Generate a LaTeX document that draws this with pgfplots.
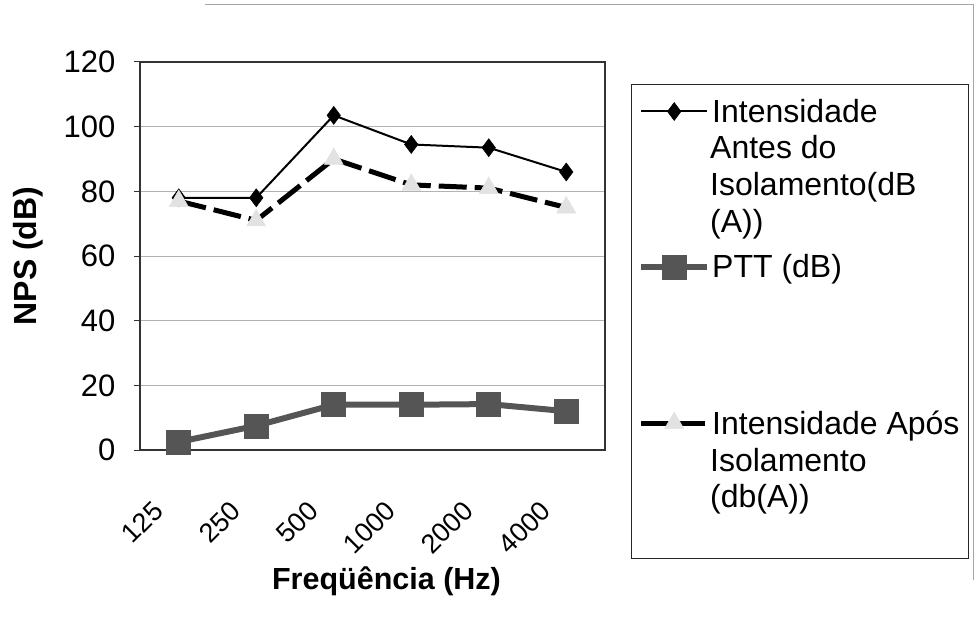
\documentclass[border=0pt]{standalone}
\usepackage{fontspec}
\setmainfont{Liberation Sans}
\usepackage{pgfplots}
\pgfplotsset{compat=1.18}
\definecolor{pttgray}{HTML}{555555}
\definecolor{trigray}{HTML}{E2E2E2}
\begin{document}
\begin{tikzpicture}
\path (0pt,0pt) rectangle (978pt,630pt);
\draw[gray!70, line width=1pt] (205pt,625pt) -- (973pt,625pt) -- (973pt,50pt);
\draw[black!85, line width=1pt] (631pt,545pt) rectangle (968pt,72pt);
\begin{axis}[
  at={(140pt,180pt)}, anchor=south west, scale only axis,
  width=465pt, height=388pt,
  xmin=-0.5, xmax=5.5, ymin=0, ymax=120,
  ytick={0,20,...,120},
  xtick={0,...,5},
  xticklabels={125,250,500,1000,2000,4000},
  minor xtick={-0.5,0.5,...,5.5},
  xtick style={draw=none},
  minor tick length=8pt,
  minor tick style={black!80, line width=1pt},
  ytick style={black!80, line width=1pt},
  major tick length=6pt,
  tick align=outside,
  xtick pos=bottom, ytick pos=left,
  ymajorgrids, grid style={gray!60, line width=1pt},
  axis line style={black!80, line width=1.2pt},
  /pgf/number format/assume math mode=true,
  yticklabel style={font=\fontsize{31}{36}\selectfont, xshift=-15pt},
  xticklabel style={font=\fontsize{27}{32}\selectfont, xshift=-18pt, yshift=-48pt, rotate=45, anchor=east},
  xlabel={\textbf{Freqüência (Hz)}},
  ylabel={\textbf{NPS (dB)}},
  xlabel style={font=\fontsize{30.5}{34}\selectfont, xshift=14pt, yshift=-3pt},
  ylabel style={font=\fontsize{32}{36}\selectfont, yshift=14pt},
  legend style={at={(1.071,0.91)}, anchor=north west, draw=none, fill=none,
    font=\fontsize{32}{37}\selectfont, row sep=127pt, inner sep=0pt,
    cells={anchor=west}},
  legend image code/.code={\draw[mark repeat=2,mark phase=2,#1] plot coordinates {(0pt,0pt) (33pt,0pt) (66pt,0pt)};},
]
\addplot[black, line width=2pt, mark=diamond*, mark size=9pt, mark options={solid, fill=black, line width=0.5pt}]
 coordinates {(0,78) (1,78) (2,103.5) (3,94.5) (4,93.5) (5,86)};
\addlegendentry{Intensidade}
\addplot[pttgray, line width=6pt, mark=square*, mark size=12pt, mark options={solid, fill=pttgray, draw=pttgray, line width=0.5pt}]
 coordinates {(0,2.5) (1,7.5) (2,14) (3,14) (4,14.2) (5,12)};
\addlegendentry{PTT (dB)}
\addplot[black, line width=5pt, dash pattern=on 28pt off 8pt, mark=triangle*, mark size=11pt, mark options={solid, fill=trigray, draw=trigray, line width=0.5pt}]
 coordinates {(0,77) (1,71) (2,90) (3,82) (4,81) (5,75)};
\addlegendentry{Intensidade Após}
\end{axis}
\node[anchor=base west, inner sep=0pt, align=left, font=\fontsize{32}{37}\selectfont] at (710pt,397pt) {Antes do\\Isolamento(dB\\(A))};
\node[anchor=base west, inner sep=0pt, align=left, font=\fontsize{32}{37}\selectfont] at (710pt,122pt) {Isolamento\\(db(A))};
\end{tikzpicture}
\end{document}
